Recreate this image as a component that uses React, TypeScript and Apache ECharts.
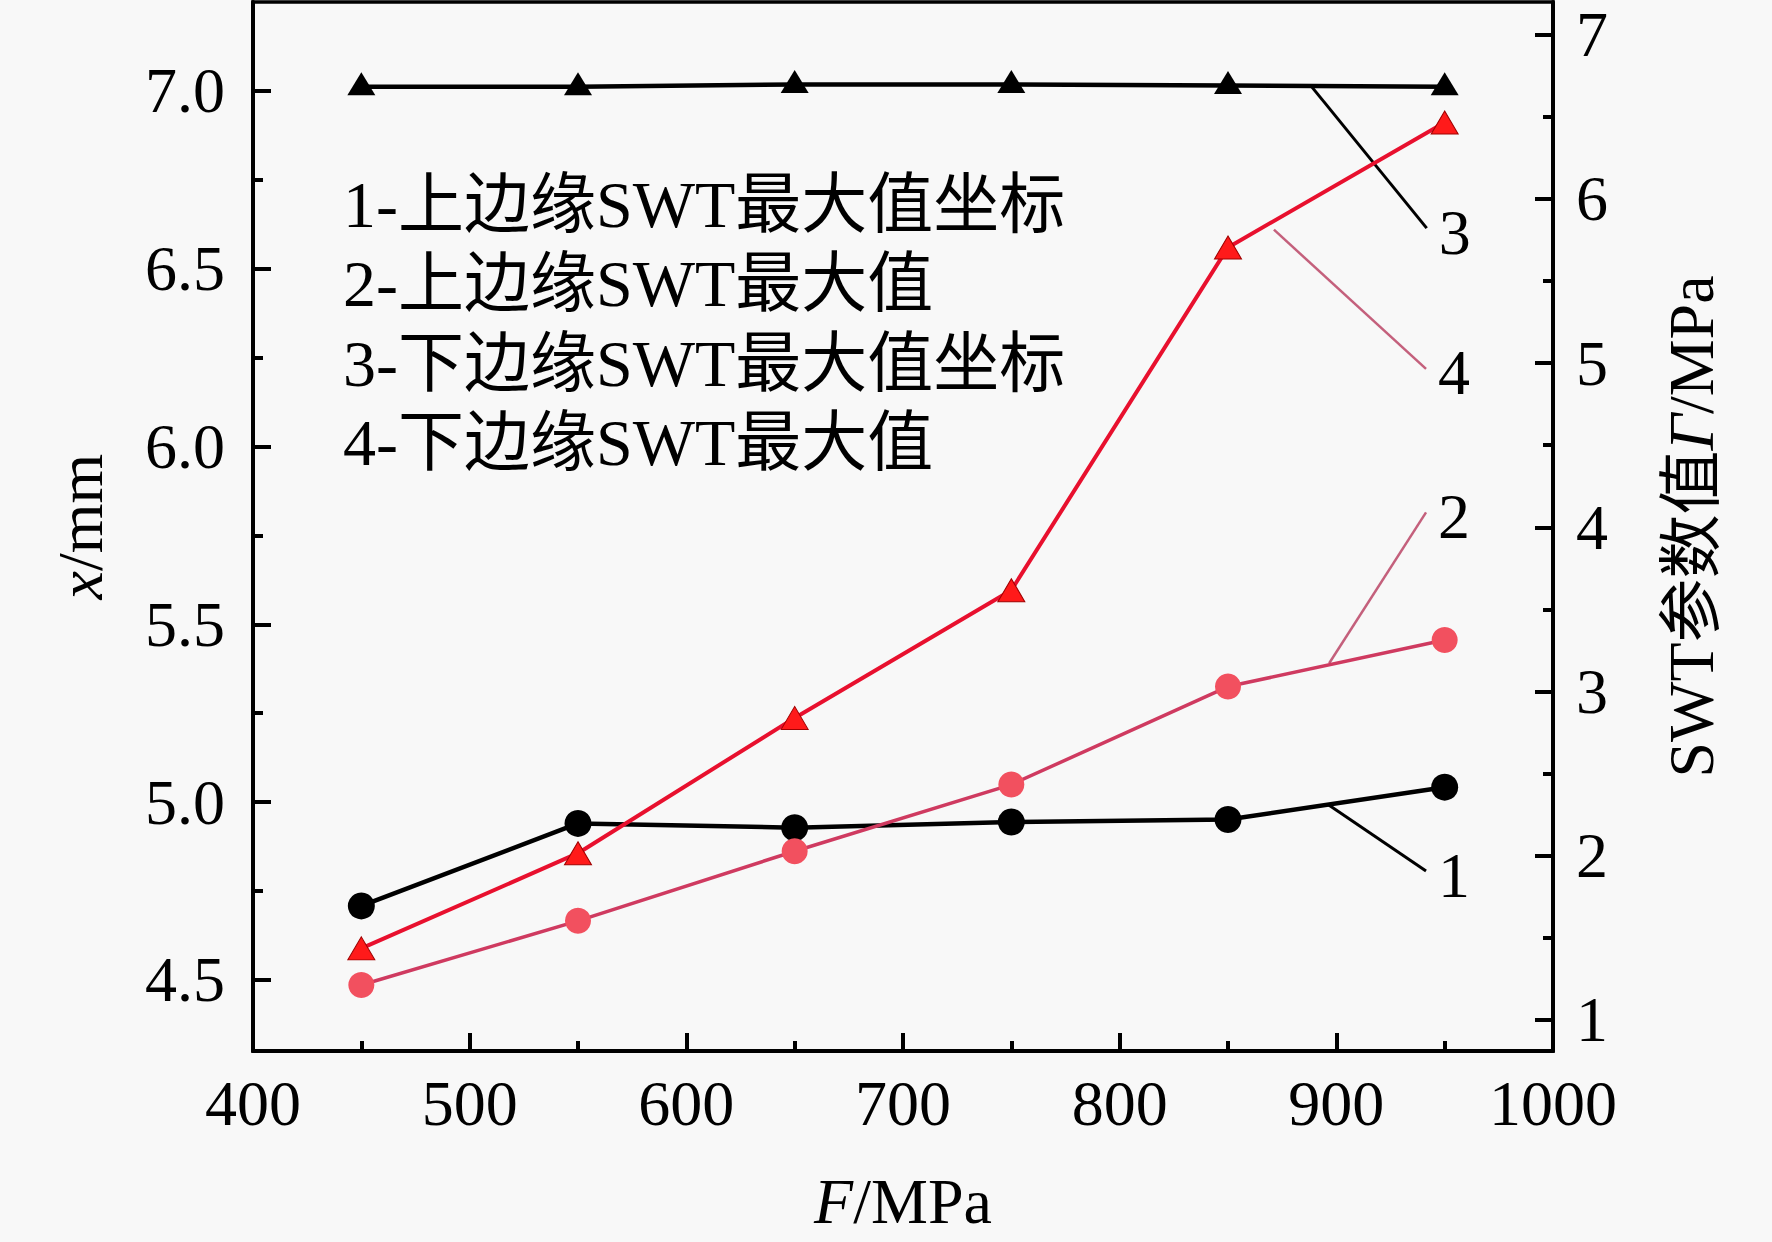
import React, { useEffect, useRef } from "react";
import * as echarts from "echarts";

// ---- data ----
const F = [450, 550, 650, 750, 850, 950];
const upperCoord = [4.708, 4.94, 4.928, 4.944, 4.951, 5.042]; // 1 - left axis
const upperSWT = [1.212, 1.603, 2.027, 2.433, 3.03, 3.314]; // 2 - right axis
const lowerCoord = [7.012, 7.012, 7.018, 7.018, 7.015, 7.012]; // 3 - left axis
const lowerSWT = [1.435, 2.015, 2.839, 3.617, 5.705, 6.466]; // 4 - right axis

const leftMajor = [4.5, 5.0, 5.5, 6.0, 6.5, 7.0];
const leftMinor = [4.75, 5.25, 5.75, 6.25, 6.75];
const rightMajor = [1, 2, 3, 4, 5, 6, 7];
const rightMinor = [1.5, 2.5, 3.5, 4.5, 5.5, 6.5];

const legendLines = [
  "1-上边缘SWT最大值坐标",
  "2-上边缘SWT最大值",
  "3-下边缘SWT最大值坐标",
  "4-下边缘SWT最大值",
];

// leader lines (data coordinates): [from, to]
const leader1 = [[896, 4.994], [941.4, 4.806]];
const leader2 = [[896.7, 3.172], [941.4, 4.091]];
const leader3 = [[888.3, 7.014], [941.7, 6.614]];
const leader4 = [[871.2, 5.813], [941.4, 4.965]];

const SERIF = "'Liberation Serif', 'Times New Roman', 'Noto Sans CJK SC', serif";
const FS = 64;
const PINK_LEADER = "#c4607c";

function pairs(ys: number[]) {
  return F.map((f, i) => [f, ys[i]]);
}

export default function App() {
  const ref = useRef<HTMLDivElement>(null);
  useEffect(() => {
    document.body.style.margin = "0";
    document.body.style.overflow = "hidden";
    const chart = echarts.init(ref.current!, null, { renderer: "svg" });

    const labelStyle = { fontSize: FS, fontFamily: SERIF, color: "#000" };
    const nameStyle = (extra: any = {}) => ({
      fontSize: FS,
      fontFamily: SERIF,
      color: "#000",
      rich: { i: { fontStyle: "italic", fontSize: FS, fontFamily: SERIF, color: "#000" } },
      ...extra,
    });

    const yBase = (min: number, max: number, pos: string) => ({
      type: "value",
      min,
      max,
      position: pos,
      splitLine: { show: false },
      axisLine: { show: true, lineStyle: { color: "#000", width: 4 } },
    });

    const leaderSeries = (d: number[][], label: string, color: string, yIdx: number, w: number) => ({
      type: "line",
      yAxisIndex: yIdx,
      data: d,
      symbol: "none",
      silent: true,
      z: 1,
      lineStyle: { color, width: w },
      endLabel: {
        show: true,
        formatter: label,
        distance: 12,
        offset: [0, 4],
        ...labelStyle,
      },
    });

    const option: any = {
      animation: false,
      backgroundColor: "#f8f8f8",
      grid: {
        left: 253,
        right: 219,
        top: 2,
        bottom: 191,
        show: true,
        borderColor: "#000",
        borderWidth: 3.5,
        containLabel: false,
        outerBoundsMode: "none",
      },
      xAxis: {
        type: "value",
        min: 400,
        max: 1000,
        interval: 100,
        name: "{i|F}/MPa",
        nameLocation: "middle",
        nameGap: 118,
        nameTextStyle: nameStyle(),
        splitLine: { show: false },
        axisLine: { show: true, lineStyle: { color: "#000", width: 4 } },
        axisTick: { show: true, inside: true, length: 18, lineStyle: { color: "#000", width: 4 } },
        minorTick: { show: true, splitNumber: 2, length: 10, lineStyle: { color: "#000", width: 4 } },
        axisLabel: { ...labelStyle, margin: 20, formatter: (v: number) => String(v) },
      },
      yAxis: [
        {
          ...yBase(4.3, 7.25, "left"),
          name: "{i|x}/mm",
          nameLocation: "middle",
          nameRotate: 90,
          nameGap: 141,
          nameTextStyle: nameStyle(),
          axisTick: { show: true, inside: true, length: 18, customValues: leftMajor, lineStyle: { color: "#000", width: 4 } },
          axisLabel: { ...labelStyle, margin: 28, customValues: leftMajor, formatter: (v: number) => v.toFixed(1) },
        },
        {
          ...yBase(4.3, 7.25, "left"),
          axisLine: { show: false },
          axisTick: { show: true, inside: true, length: 10, customValues: leftMinor, lineStyle: { color: "#000", width: 4 } },
          axisLabel: { show: false },
        },
        {
          ...yBase(0.81, 7.2, "right"),
          name: "SWT参数值{i|Γ}/MPa",
          nameLocation: "middle",
          nameRotate: 90,
          nameGap: 106,
          nameTextStyle: nameStyle(),
          axisTick: { show: true, inside: true, length: 18, customValues: rightMajor, lineStyle: { color: "#000", width: 4 } },
          axisLabel: { ...labelStyle, margin: 23, customValues: rightMajor, formatter: (v: number) => String(Math.round(v)) },
        },
        {
          ...yBase(0.81, 7.2, "right"),
          axisLine: { show: false },
          axisTick: { show: true, inside: true, length: 10, customValues: rightMinor, lineStyle: { color: "#000", width: 4 } },
          axisLabel: { show: false },
        },
      ],
      series: [
        {
          name: "1-上边缘SWT最大值坐标",
          type: "line",
          yAxisIndex: 0,
          data: pairs(upperCoord),
          symbol: "circle",
          symbolSize: 27,
          z: 3,
          lineStyle: { color: "#000", width: 4.5 },
          itemStyle: { color: "#000" },
        },
        {
          name: "3-下边缘SWT最大值坐标",
          type: "line",
          yAxisIndex: 0,
          data: pairs(lowerCoord),
          symbol: "triangle",
          symbolSize: [28, 23],
          symbolOffset: [0, -3],
          z: 3,
          lineStyle: { color: "#000", width: 4.5 },
          itemStyle: { color: "#000" },
        },
        {
          name: "2-上边缘SWT最大值",
          type: "line",
          yAxisIndex: 2,
          data: pairs(upperSWT),
          symbol: "circle",
          symbolSize: 26,
          z: 4,
          lineStyle: { color: "#cf3a60", width: 3.5 },
          itemStyle: { color: "#f2505f" },
        },
        {
          name: "4-下边缘SWT最大值",
          type: "line",
          yAxisIndex: 2,
          data: pairs(lowerSWT),
          symbol: "triangle",
          symbolSize: [27, 23],
          z: 5,
          lineStyle: { color: "#e8102e", width: 4 },
          itemStyle: { color: "#ff1a1a", borderColor: "#a00000", borderWidth: 1 },
        },
        leaderSeries(leader1, "1", "#000", 0, 3),
        leaderSeries(leader2, "2", PINK_LEADER, 2, 2.5),
        leaderSeries(leader3, "3", "#000", 0, 3),
        leaderSeries(leader4, "4", PINK_LEADER, 2, 2.5),
      ],
      graphic: legendLines.map((t, i) => ({
        type: "text",
        x: 343,
        y: 204 + i * 79.5,
        silent: true,
        style: {
          text: t,
          fontSize: 66,
          fontFamily: SERIF,
          fill: "#000",
          align: "left",
          verticalAlign: "middle",
        },
      })),
    };

    chart.setOption(option);
    return () => chart.dispose();
  }, []);

  return <div ref={ref} style={{ width: 1772, height: 1242 }} />;
}
